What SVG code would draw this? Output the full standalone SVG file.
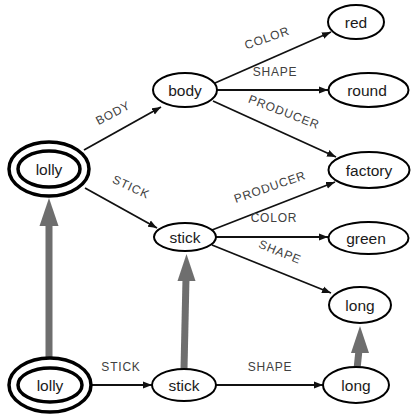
<svg xmlns="http://www.w3.org/2000/svg" width="411" height="416" viewBox="0 0 411 416">
  <style>
    .node { fill: #fff; stroke: #000; stroke-width: 2; }
    .ring { fill: #fff; stroke: #000; stroke-width: 3.5; }
    .name { font-family: "Liberation Sans", Arial, sans-serif; font-size: 15.5px; fill: #1a1a1a; text-anchor: middle; dominant-baseline: central; }
    .edge { stroke: #111; stroke-width: 1.8; fill: none; marker-end: url(#tip); }
    .lbl { font-family: "Liberation Sans", Arial, sans-serif; font-size: 12px; letter-spacing: 0.8px; fill: #404040; text-anchor: middle; dominant-baseline: central; }
    .thick { stroke: #6e6e6e; stroke-width: 7; fill: none; }
    .head { fill: #6e6e6e; }
  </style>
  <defs>
    <marker id="tip" markerWidth="10" markerHeight="8" refX="9" refY="4" orient="auto" markerUnits="userSpaceOnUse">
      <path d="M0,0.5 L9,4 L0,7.5 Z" fill="#111"/>
    </marker>
  </defs>
  <rect width="411" height="416" fill="#fff"/>

  <!-- thick grey correspondence arrows -->
  <g id="mappings">
    <line class="thick" x1="49" y1="358" x2="49" y2="224"/>
    <polygon class="head" points="49,198 39.5,226 58.5,226"/>
    <line class="thick" x1="184" y1="369" x2="186" y2="278"/>
    <polygon class="head" points="186.5,254 177.5,281 195.5,281"/>
    <line class="thick" x1="357" y1="369" x2="359" y2="350"/>
    <polygon class="head" points="360,326 351,353 369,353"/>
  </g>

  <!-- labelled connectors -->
  <g id="connectors">
    <line class="edge" x1="84" y1="150" x2="161" y2="107"/>
    <line class="edge" x1="85" y1="188" x2="157" y2="228"/>
    <line class="edge" x1="215" y1="83" x2="331" y2="32"/>
    <line class="edge" x1="217" y1="90" x2="328" y2="90"/>
    <line class="edge" x1="213" y1="101" x2="336" y2="157"/>
    <line class="edge" x1="212" y1="230" x2="335" y2="182"/>
    <line class="edge" x1="216" y1="237" x2="328" y2="237"/>
    <line class="edge" x1="212" y1="245" x2="331" y2="293"/>
    <line class="edge" x1="92" y1="385" x2="152" y2="385"/>
    <line class="edge" x1="216" y1="385" x2="323" y2="385"/>

    <text class="lbl" transform="translate(113,113) rotate(-28)">BODY</text>
    <text class="lbl" transform="translate(131,187) rotate(25)">STICK</text>
    <text class="lbl" transform="translate(267,38) rotate(-19)">COLOR</text>
    <text class="lbl" x="275" y="72">SHAPE</text>
    <text class="lbl" transform="translate(284,112) rotate(21)">PRODUCER</text>
    <text class="lbl" transform="translate(270,187) rotate(-19)">PRODUCER</text>
    <text class="lbl" x="274" y="218">COLOR</text>
    <text class="lbl" transform="translate(280,252) rotate(22)">SHAPE</text>
    <text class="lbl" x="121" y="367">STICK</text>
    <text class="lbl" x="270" y="367">SHAPE</text>
  </g>

  <g id="lolly-top">
    <ellipse class="ring" cx="49" cy="169" rx="40" ry="27"/>
    <ellipse class="ring" cx="49" cy="169" rx="31" ry="18"/>
    <text class="name" x="49" y="169">lolly</text>
  </g>
  <g id="body">
    <ellipse class="node" cx="185" cy="90" rx="32" ry="17"/>
    <text class="name" x="185" y="90">body</text>
  </g>
  <g id="red">
    <ellipse class="node" cx="356" cy="22" rx="28" ry="17"/>
    <text class="name" x="356" y="22">red</text>
  </g>
  <g id="round">
    <ellipse class="node" cx="368.5" cy="90" rx="40" ry="17"/>
    <text class="name" x="367" y="90">round</text>
  </g>
  <g id="factory">
    <ellipse class="node" cx="369" cy="170" rx="40.5" ry="18"/>
    <text class="name" x="369" y="170">factory</text>
  </g>
  <g id="stick-top">
    <ellipse class="node" cx="185" cy="237" rx="31" ry="14"/>
    <text class="name" x="185" y="237">stick</text>
  </g>
  <g id="green">
    <ellipse class="node" cx="368.5" cy="238" rx="40" ry="16"/>
    <text class="name" x="366" y="238">green</text>
  </g>
  <g id="long-top">
    <ellipse class="node" cx="360" cy="305" rx="31" ry="18"/>
    <text class="name" x="360" y="305">long</text>
  </g>
  <g id="lolly-bottom">
    <ellipse class="ring" cx="50" cy="385" rx="41" ry="27"/>
    <ellipse class="ring" cx="50" cy="385" rx="32" ry="17"/>
    <text class="name" x="50" y="385">lolly</text>
  </g>
  <g id="stick-bottom">
    <ellipse class="node" cx="184" cy="385" rx="32" ry="16"/>
    <text class="name" x="184" y="385">stick</text>
  </g>
  <g id="long-bottom">
    <ellipse class="node" cx="356" cy="385" rx="33" ry="18"/>
    <text class="name" x="356" y="385">long</text>
  </g>
</svg>
